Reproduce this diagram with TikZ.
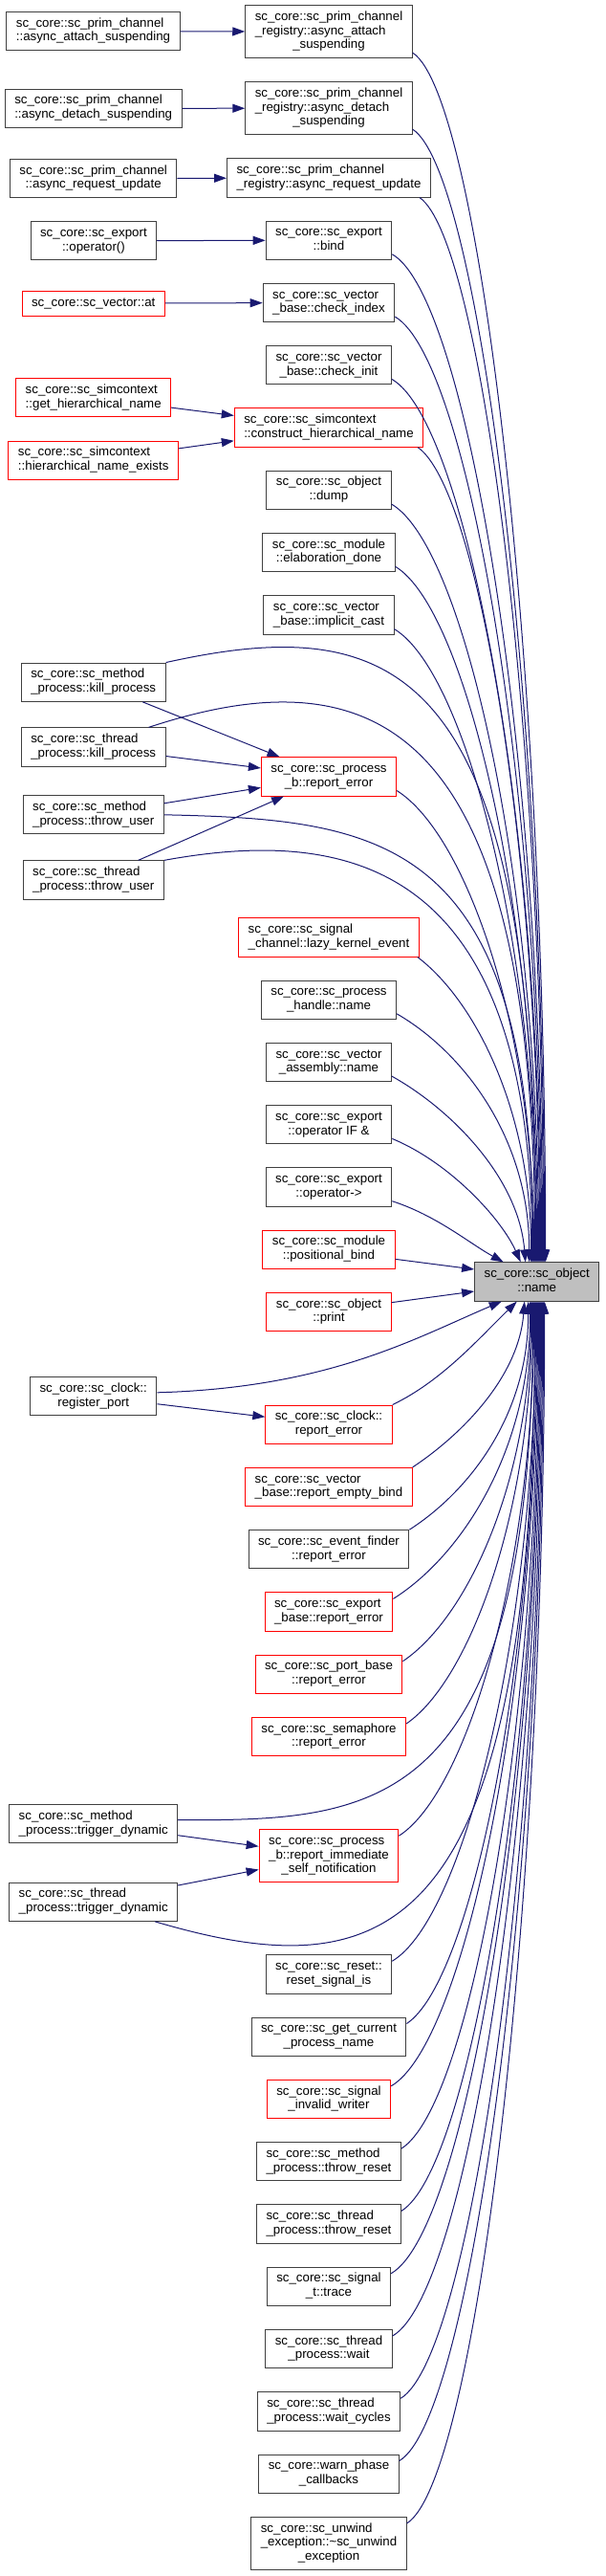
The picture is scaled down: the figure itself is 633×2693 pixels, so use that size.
\documentclass[tikz,border=0pt]{standalone}
\usepackage{fontspec}
\setmainfont{Liberation Sans}
\usetikzlibrary{arrows.meta,positioning,calc}

\definecolor{edgeblue}{HTML}{191970}
\definecolor{framegray}{HTML}{404040}
\definecolor{framered}{HTML}{FF0000}
\definecolor{nodegray}{HTML}{BFBFBF}

% doxygen style labels: left aligned lines, last line centred
\newcommand{\callname}[2]{\begin{tabular}{@{}l@{}}#1\\\multicolumn{1}{@{}c@{}}{#2}\end{tabular}}
\newcommand{\callnamex}[3]{\begin{tabular}{@{}l@{}}#1\\#2\\\multicolumn{1}{@{}c@{}}{#3}\end{tabular}}

\begin{document}
\begin{tikzpicture}[x=1pt, y=1pt, node distance=24pt,
  box/.style={draw=framegray, line width=1pt, inner xsep=10pt, inner ysep=0pt, minimum height=40.3pt, font=\fontsize{13.3}{14.7}\selectfont},
  redbox/.style={box, draw=framered},
  tallbox/.style={minimum height=55pt},
  focus/.style={box, fill=nodegray},
  arr/.style={edgeblue, line width=1pt, -{Triangle[length=13pt, width=9pt]}},
  sweep/.style n args={4}{to path={let \p1=(\tikztostart), \p2=(\tikztotarget), \n1={\y2-\y1} in
    .. controls ($(\p1)+({#1*(\x2-\x1)},#2)$) and ($(\p2)+({-#3*(\x2-\x1)},{-(#4)*(\n1)})$) .. (\tikztotarget)}}]
  \useasboundingbox (0,0) rectangle (633,-2693);

  % middle column
  \node[box, tallbox] (regattach) at (344,-33.2) {\callnamex{sc\_core::sc\_prim\_channel}{\_registry::async\_attach}{\_suspending}};
  \node[box, tallbox, below=of regattach] (regdetach) {\callnamex{sc\_core::sc\_prim\_channel}{\_registry::async\_detach}{\_suspending}};
  \node[box, below=of regdetach] (regrequpd) {\callname{sc\_core::sc\_prim\_channel}{\_registry::async\_request\_update}};
  \node[box, below=of regrequpd] (expbind) {\callname{sc\_core::sc\_export}{::bind}};
  \node[box, below=of expbind] (checkidx) {\callname{sc\_core::sc\_vector}{\_base::check\_index}};
  \node[box, below=of checkidx] (checkinit) {\callname{sc\_core::sc\_vector}{\_base::check\_init}};
  \node[redbox, below=of checkinit] (consthier) {\callname{sc\_core::sc\_simcontext}{::construct\_hierarchical\_name}};
  \node[box, below=of consthier] (dump) {\callname{sc\_core::sc\_object}{::dump}};
  \node[box, below=of dump] (elabdone) {\callname{sc\_core::sc\_module}{::elaboration\_done}};
  \node[box, below=of elabdone] (implcast) {\callname{sc\_core::sc\_vector}{\_base::implicit\_cast}};
  \node[redbox, below=127.6pt of implcast] (preport) {\callname{sc\_core::sc\_process}{\_b::report\_error}};
  \node[redbox, below=126.7pt of preport] (lazyev) {\callname{sc\_core::sc\_signal}{\_channel::lazy\_kernel\_event}};
  \node[box, below=of lazyev] (hname) {\callname{sc\_core::sc\_process}{\_handle::name}};
  \node[box, below=of hname] (asmname) {\callname{sc\_core::sc\_vector}{\_assembly::name}};
  \node[box, below=of asmname] (opif) {\callname{sc\_core::sc\_export}{::operator IF \&}};
  \node[box, below=of opif] (oparrow) {\callname{sc\_core::sc\_export}{::operator->}};
  \node[redbox, below=of oparrow] (posbind) {\callname{sc\_core::sc\_module}{::positional\_bind}};
  \node[redbox, below=of posbind] (print) {\callname{sc\_core::sc\_object}{::print}};
  \node[redbox, below=76.2pt of print] (clkerr) {\callname{sc\_core::sc\_clock::}{report\_error}};
  \node[redbox, below=of clkerr] (emptybind) {\callname{sc\_core::sc\_vector}{\_base::report\_empty\_bind}};
  \node[box, below=of emptybind] (finderr) {\callname{sc\_core::sc\_event\_finder}{::report\_error}};
  \node[redbox, below=of finderr] (experr) {\callname{sc\_core::sc\_export}{\_base::report\_error}};
  \node[redbox, below=of experr] (porterr) {\callname{sc\_core::sc\_port\_base}{::report\_error}};
  \node[redbox, below=of porterr] (semerr) {\callname{sc\_core::sc\_semaphore}{::report\_error}};
  \node[redbox, tallbox, below=75.9pt of semerr] (selfnote) {\callnamex{sc\_core::sc\_process}{\_b::report\_immediate}{\_self\_notification}};
  \node[box, below=75pt of selfnote] (resetis) {\callname{sc\_core::sc\_reset::}{reset\_signal\_is}};
  \node[box, below=of resetis] (curname) {\callname{sc\_core::sc\_get\_current}{\_process\_name}};
  \node[redbox, below=of curname] (badwriter) {\callname{sc\_core::sc\_signal}{\_invalid\_writer}};
  \node[box, below=of badwriter] (mreset) {\callname{sc\_core::sc\_method}{\_process::throw\_reset}};
  \node[box, below=of mreset] (treset) {\callname{sc\_core::sc\_thread}{\_process::throw\_reset}};
  \node[box, below=of treset] (trace) {\callname{sc\_core::sc\_signal}{\_t::trace}};
  \node[box, below=of trace] (twait) {\callname{sc\_core::sc\_thread}{\_process::wait}};
  \node[box, below=of twait] (twaitcyc) {\callname{sc\_core::sc\_thread}{\_process::wait\_cycles}};
  \node[box, below=of twaitcyc] (warnphase) {\callname{sc\_core::warn\_phase}{\_callbacks}};
  \node[box, tallbox, below=of warnphase] (unwind) {\callnamex{sc\_core::sc\_unwind}{\_exception::\textasciitilde sc\_unwind}{\_exception}};

  % left column
  \node[box] (attach) at (97.5,-32.5) {\callname{sc\_core::sc\_prim\_channel}{::async\_attach\_suspending}};
  \node[box] (detach) at (97.7,-113.3) {\callname{sc\_core::sc\_prim\_channel}{::async\_detach\_suspending}};
  \node[box] (requpd) at (97.7,-186.7) {\callname{sc\_core::sc\_prim\_channel}{::async\_request\_update}};
  \node[box] (expop) at (97.9,-251.8) {\callname{sc\_core::sc\_export}{::operator()}};
  \node[redbox, minimum height=25.7pt] (vecat) at (97.7,-317.2) {sc\_core::sc\_vector::at};
  \node[redbox] (gethier) at (97.7,-415.8) {\callname{sc\_core::sc\_simcontext}{::get\_hierarchical\_name}};
  \node[redbox] (hierexists) at (97.7,-481.2) {\callname{sc\_core::sc\_simcontext}{::hierarchical\_name\_exists}};
  \node[box] (mkill) at (97.7,-713.2) {\callname{sc\_core::sc\_method}{\_process::kill\_process}};
  \node[box] (tkill) at (97.7,-781) {\callname{sc\_core::sc\_thread}{\_process::kill\_process}};
  \node[box] (mthrow) at (97.7,-851.8) {\callname{sc\_core::sc\_method}{\_process::throw\_user}};
  \node[box] (tthrow) at (97.7,-920) {\callname{sc\_core::sc\_thread}{\_process::throw\_user}};
  \node[box] (regport) at (97.7,-1459.8) {\callname{sc\_core::sc\_clock::}{register\_port}};
  \node[box] (mtrig) at (97.7,-1906.7) {\callname{sc\_core::sc\_method}{\_process::trigger\_dynamic}};
  \node[box] (ttrig) at (97.7,-1988.2) {\callname{sc\_core::sc\_thread}{\_process::trigger\_dynamic}};

  % the called function
  \node[focus] (objname) at (561.7,-1340) {\callname{sc\_core::sc\_object}{::name}};

  % left column to middle column
  \draw[arr] (attach) -- (regattach);
  \draw[arr] (detach) -- (regdetach);
  \draw[arr] (requpd) -- (regrequpd);
  \draw[arr] (expop) -- (expbind);
  \draw[arr] (vecat) -- (checkidx);
  \draw[arr] (gethier) -- (consthier);
  \draw[arr] (hierexists) -- (consthier);
  \draw[arr] (mkill) -- (preport);
  \draw[arr] (tkill) -- (preport);
  \draw[arr] (mthrow) -- (preport);
  \draw[arr] (tthrow) -- (preport);
  \draw[arr] (regport) -- (clkerr);
  \draw[arr] (mtrig) -- (selfnote);
  \draw[arr] (ttrig) -- (selfnote);

  % into sc_object::name from above
  \draw[arr] ([yshift=6pt]regattach.south east) to[sweep={0.5}{-45}{0}{0.5}] ([xshift=9pt]objname.north);
  \draw[arr] ([yshift=6pt]regdetach.south east) to[sweep={0.5}{-45}{0}{0.5}] ([xshift=8pt]objname.north);
  \draw[arr] ([xshift=-12pt]regrequpd.south east) to[sweep={0.5}{-45}{0}{0.5}] ([xshift=7pt]objname.north);
  \draw[arr] ([yshift=6pt]expbind.south east) to[sweep={0.5}{-45}{0}{0.5}] ([xshift=6pt]objname.north);
  \draw[arr] ([yshift=6pt]checkidx.south east) to[sweep={0.5}{-45}{0}{0.5}] ([xshift=5pt]objname.north);
  \draw[arr] ([yshift=6pt]checkinit.south east) to[sweep={0.5}{-45}{0}{0.5}] ([xshift=4pt]objname.north);
  \draw[arr] ([xshift=-6pt]consthier.south east) to[sweep={0.5}{-45}{0}{0.5}] ([xshift=3pt]objname.north);
  \draw[arr] ([yshift=6pt]dump.south east) to[sweep={0.5}{-45}{0}{0.5}] ([xshift=2pt]objname.north);
  \draw[arr] ([yshift=6pt]elabdone.south east) to[sweep={0.5}{-45}{0}{0.5}] ([xshift=1pt]objname.north);
  \draw[arr] ([yshift=6pt]implcast.south east) to[sweep={0.5}{-45}{0}{0.5}] (objname.north);
  \draw[arr] (mkill.north east) to[sweep={0.63}{54}{0}{1}] ([xshift=-1pt]objname.north);
  \draw[arr] ([xshift=-18pt]tkill.north east) to[sweep={0.6}{80}{0}{1}] ([xshift=-2pt]objname.north);
  \draw[arr] ([yshift=6pt]preport.south east) to[sweep={0.5}{-45}{0}{0.5}] ([xshift=-3pt]objname.north);
  \draw[arr] (mthrow.east) to[sweep={0.6}{-5}{0}{0.95}] ([xshift=-4pt]objname.north);
  \draw[arr] (tthrow.north east) to[sweep={0.5}{35}{0}{1}] ([xshift=-5pt]objname.north);
  \draw[arr] ([xshift=-2pt]lazyev.south east) to[sweep={0.5}{-45}{0}{0.5}] ([xshift=-6pt]objname.north);
  \draw[arr] ([yshift=6pt]hname.south east) to[sweep={0.5}{-40}{0}{0.5}] ([xshift=-8pt]objname.north);
  \draw[arr] ([yshift=6pt]asmname.south east) to[sweep={0.45}{-35}{0.05}{0.45}] ([xshift=-12pt]objname.north);
  \draw[arr] ([yshift=6pt]opif.south east) to[sweep={0.45}{-25}{0.15}{0.35}] ([xshift=-17pt]objname.north);
  \draw[arr] ([yshift=6pt]oparrow.south east) to[sweep={0.4}{-15}{0.3}{0.3}] ([xshift=-35pt]objname.north);

  % from the side
  \draw[arr] ([yshift=-10pt]posbind.east) -- ([yshift=13pt]objname.west);
  \draw[arr] ([yshift=10pt]print.east) -- ([yshift=-10pt]objname.west);

  % into sc_object::name from below
  \draw[arr] ([yshift=4pt]regport.east) to[sweep={0.5}{5}{0.25}{0.4}] ([xshift=-37pt]objname.south);
  \draw[arr] (clkerr.north east) to[sweep={0.4}{25}{0.3}{0.35}] ([xshift=-21pt]objname.south);
  \draw[arr] (emptybind.north east) to[sweep={0.45}{35}{0.05}{0.45}] ([xshift=-13pt]objname.south);
  \draw[arr] (finderr.north east) to[sweep={0.5}{40}{0}{0.5}] ([xshift=-9pt]objname.south);
  \draw[arr] ([yshift=-7pt]experr.north east) to[sweep={0.5}{45}{0}{0.5}] ([xshift=-7pt]objname.south);
  \draw[arr] ([yshift=-7pt]porterr.north east) to[sweep={0.5}{45}{0}{0.5}] ([xshift=-6pt]objname.south);
  \draw[arr] ([yshift=-7pt]semerr.north east) to[sweep={0.5}{45}{0}{0.5}] ([xshift=-5pt]objname.south);
  \draw[arr] ([yshift=4pt]mtrig.east) to[sweep={0.55}{0}{0}{1}] ([xshift=-4pt]objname.south);
  \draw[arr] ([yshift=-7pt]selfnote.north east) to[sweep={0.5}{45}{0}{0.5}] ([xshift=-3pt]objname.south);
  \draw[arr] ([xshift=-24pt]ttrig.south east) to[sweep={0.6}{-70}{0}{1.05}] ([xshift=-2pt]objname.south);
  \draw[arr] ([yshift=-7pt]resetis.north east) to[sweep={0.5}{45}{0}{0.5}] ([xshift=-1pt]objname.south);
  \draw[arr] ([yshift=-7pt]curname.north east) to[sweep={0.5}{45}{0}{0.5}] (objname.south);
  \draw[arr] ([yshift=-7pt]badwriter.north east) to[sweep={0.5}{45}{0}{0.5}] ([xshift=1pt]objname.south);
  \draw[arr] ([yshift=-7pt]mreset.north east) to[sweep={0.5}{45}{0}{0.5}] ([xshift=2pt]objname.south);
  \draw[arr] ([yshift=-7pt]treset.north east) to[sweep={0.5}{45}{0}{0.5}] ([xshift=3pt]objname.south);
  \draw[arr] ([yshift=-7pt]trace.north east) to[sweep={0.5}{45}{0}{0.5}] ([xshift=4pt]objname.south);
  \draw[arr] ([yshift=-7pt]twait.north east) to[sweep={0.5}{45}{0}{0.5}] ([xshift=5pt]objname.south);
  \draw[arr] ([yshift=-7pt]twaitcyc.north east) to[sweep={0.5}{45}{0}{0.5}] ([xshift=6pt]objname.south);
  \draw[arr] ([yshift=-7pt]warnphase.north east) to[sweep={0.5}{45}{0}{0.5}] ([xshift=7pt]objname.south);
  \draw[arr] ([yshift=-7pt]unwind.north east) to[sweep={0.5}{45}{0}{0.5}] ([xshift=8pt]objname.south);
\end{tikzpicture}
\end{document}
